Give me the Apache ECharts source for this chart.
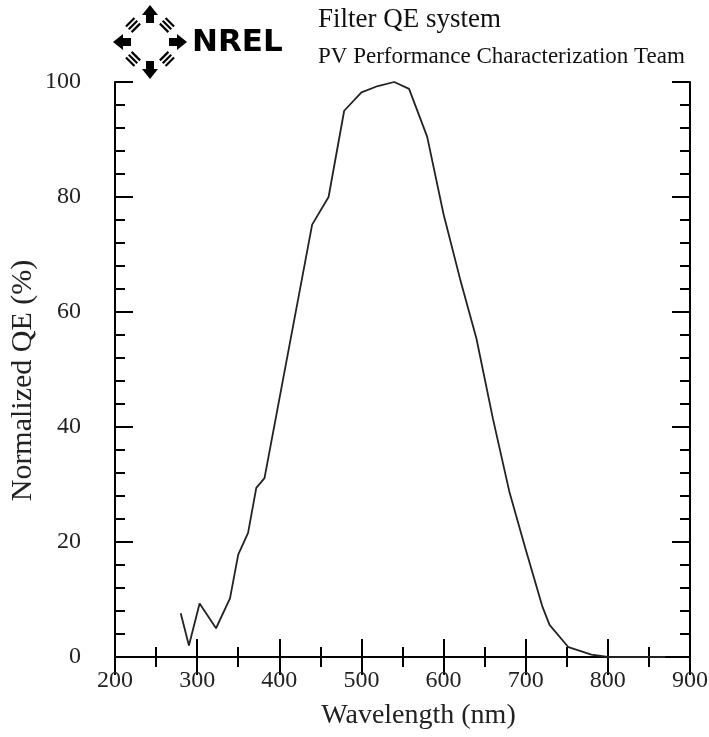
<!DOCTYPE html>
<html>
<head>
<meta charset="utf-8">
<script src="https://cdn.jsdelivr.net/npm/echarts@6/dist/echarts.min.js"></script>
<style>
html,body{margin:0;padding:0;background:#fff;}
#main{width:709px;height:737px;}
</style>
</head>
<body>
<div id="main"></div>
<script>
// Data
const wavelengthNm = [280, 290, 303, 323, 340, 350, 362, 372, 382, 400, 440, 460, 479, 500, 520, 540, 558, 580, 600, 620, 640, 660, 680, 700, 720, 729, 752, 780, 800, 870];
const normalizedQE = [7.6, 2.0, 9.3, 5.0, 10.2, 17.8, 21.6, 29.4, 31.1, 44.8, 75.2, 80.0, 95.0, 98.2, 99.3, 100, 98.8, 90.5, 77.0, 65.8, 55.4, 41.5, 28.8, 18.7, 8.9, 5.6, 1.7, 0.4, 0, 0];
const xTicks = [200, 300, 400, 500, 600, 700, 800, 900];
const yTicks = [0, 20, 40, 60, 80, 100];
const titleLine1 = 'Filter QE system';
const titleLine2 = 'PV Performance Characterization Team';
const xName = 'Wavelength (nm)';
const yName = 'Normalized QE (%)';

const chart = echarts.init(document.getElementById('main'), null, {renderer: 'canvas'});
const serif = 'Liberation Serif, Times New Roman, serif';

const seriesData = wavelengthNm.map((w, i) => [w, normalizedQE[i]]);

// Logo graphic (NREL)
const cx = 150, cy = 42;
const logo = [];
const arrow = (dx, dy) => {
  const px = -dy, py = dx;
  const tip = [cx + dx * 37, cy + dy * 37];
  const b1 = [cx + dx * 27 + px * 8, cy + dy * 27 + py * 8];
  const b2 = [cx + dx * 27 - px * 8, cy + dy * 27 - py * 8];
  logo.push({type: 'polygon', shape: {points: [tip, b1, b2]}, style: {fill: '#000'}});
  const s1 = [cx + dx * 27 + px * 4, cy + dy * 27 + py * 4];
  const s2 = [cx + dx * 27 - px * 4, cy + dy * 27 - py * 4];
  const s3 = [cx + dx * 19 - px * 4, cy + dy * 19 - py * 4];
  const s4 = [cx + dx * 19 + px * 4, cy + dy * 19 + py * 4];
  logo.push({type: 'polygon', shape: {points: [s1, s2, s3, s4]}, style: {fill: '#000'}});
};
arrow(0, -1); arrow(0, 1); arrow(-1, 0); arrow(1, 0);
const diag = (dx, dy) => {
  const n = Math.SQRT1_2;
  const ux = dx * n, uy = dy * n;
  const px = -uy, py = ux;
  for (let k = 0; k < 3; k++) {
    const r = 20 + k * 4;
    logo.push({type: 'line', shape: {
      x1: cx + ux * r + px * 6, y1: cy + uy * r + py * 6,
      x2: cx + ux * r - px * 6, y2: cy + uy * r - py * 6},
      style: {stroke: '#000', lineWidth: 2.2}});
  }
};
diag(1, 1); diag(1, -1); diag(-1, 1); diag(-1, -1);
logo.push({type: 'text', left: 192, top: 27, style: {text: 'NREL', fill: '#000', font: '900 31px "DejaVu Sans", sans-serif'}});
logo.push({type: 'text', left: 318, top: 6, style: {text: titleLine1, fill: '#111', font: '27px ' + serif}});
logo.push({type: 'text', left: 318, top: 45, style: {text: titleLine2, fill: '#111', font: '23px ' + serif}});

const axisLineStyle = {show: true, lineStyle: {color: '#000', width: 2}};
const labelStyle = {color: '#222', fontFamily: serif, fontSize: 24};

chart.setOption({
  animation: false,
  backgroundColor: '#fff',
  grid: {left: 115, right: 19, top: 82, bottom: 80, containLabel: false, outerBoundsMode: 'none'},
  graphic: logo,
  xAxis: [{
    type: 'value', min: 200, max: 900, interval: 100, position: 'bottom',
    axisLine: axisLineStyle,
    axisTick: {show: true, inside: true, length: 18, lineStyle: {color: '#000', width: 2}},
    minorTick: {show: true, splitNumber: 2, length: 10, lineStyle: {color: '#000', width: 2}},
    axisLabel: Object.assign({margin: 12, formatter: v => xTicks.includes(v) ? String(v) : ''}, labelStyle),
    splitLine: {show: false},
    name: xName, nameLocation: 'middle', nameGap: 45,
    nameTextStyle: {color: '#222', fontFamily: serif, fontSize: 28, padding: [0, 0, 0, 32]}
  }, {
    type: 'value', min: 200, max: 900, interval: 100, position: 'top',
    axisLine: axisLineStyle,
    axisTick: {show: true, inside: true, length: 18, lineStyle: {color: '#000', width: 2}},
    minorTick: {show: true, splitNumber: 2, length: 10, lineStyle: {color: '#000', width: 2}},
    axisLabel: {show: false}, splitLine: {show: false}
  }],
  yAxis: [{
    type: 'value', min: 0, max: 100, interval: 20, position: 'left',
    axisLine: axisLineStyle,
    axisTick: {show: true, inside: true, length: 18, lineStyle: {color: '#000', width: 2}},
    minorTick: {show: true, splitNumber: 5, length: 10, lineStyle: {color: '#000', width: 2}},
    axisLabel: Object.assign({margin: 34, formatter: v => yTicks.includes(v) ? String(v) : ''}, labelStyle),
    splitLine: {show: false},
    name: yName, nameLocation: 'middle', nameGap: 77, nameRotate: 90, nameMoveOverlap: false,
    nameTextStyle: {color: '#222', fontFamily: serif, fontSize: 30, padding: [0, 22, 0, 0]}
  }, {
    type: 'value', min: 0, max: 100, interval: 20, position: 'right',
    axisLine: axisLineStyle,
    axisTick: {show: true, inside: true, length: 18, lineStyle: {color: '#000', width: 2}},
    minorTick: {show: true, splitNumber: 5, length: 10, lineStyle: {color: '#000', width: 2}},
    axisLabel: {show: false}, splitLine: {show: false}
  }],
  series: [{
    type: 'line', xAxisIndex: 0, yAxisIndex: 0,
    data: seriesData, showSymbol: false, smooth: false,
    lineStyle: {color: '#222', width: 1.8}
  }]
});
</script>
</body>
</html>
